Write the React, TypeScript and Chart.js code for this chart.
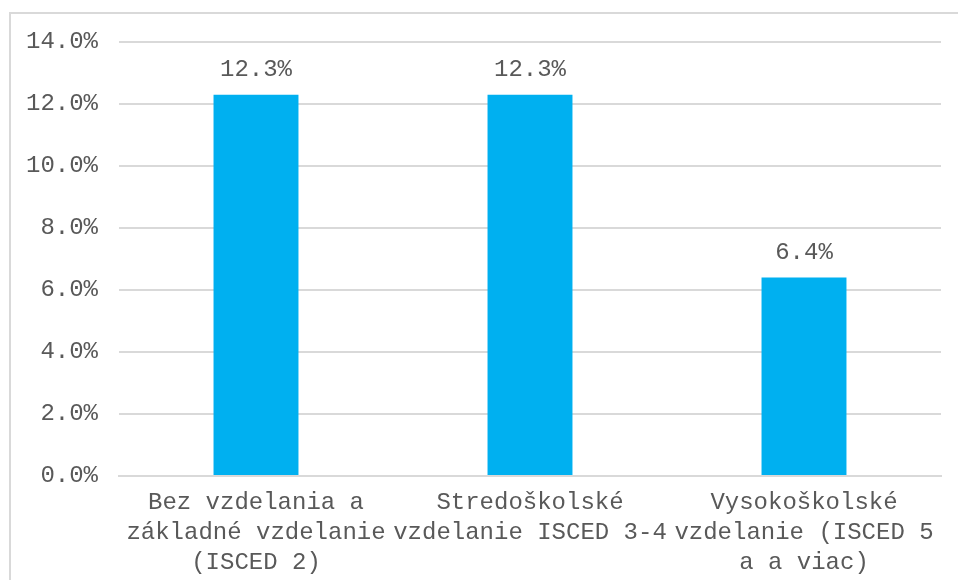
import React, { useEffect, useRef } from "react";
import { Chart, registerables } from "chart.js";

Chart.register(...registerables);

const categories: string[][] = [
  ["Bez vzdelania a", "základné vzdelanie", "(ISCED 2)"],
  ["Stredoškolské", "vzdelanie ISCED 3-4"],
  ["Vysokoškolské", "vzdelanie (ISCED 5", "a a viac)"],
];
const values: number[] = [12.3, 12.3, 6.4];
const valueLabels: string[] = ["12.3%", "12.3%", "6.4%"];

const FONT = "'Liberation Mono', 'Courier New', monospace";
const TEXT = "#595959";

const labelPlugin = {
  id: "valueLabels",
  afterDatasetsDraw(chart: any) {
    const ctx = chart.ctx;
    const meta = chart.getDatasetMeta(0);
    ctx.save();
    ctx.font = `24px ${FONT}`;
    ctx.fillStyle = TEXT;
    ctx.textAlign = "center";
    ctx.textBaseline = "alphabetic";
    meta.data.forEach((bar: any, i: number) => {
      ctx.fillText(valueLabels[i], bar.x, bar.y - 19);
    });
    ctx.restore();
  },
};

export default function App() {
  const ref = useRef<HTMLCanvasElement | null>(null);
  useEffect(() => {
    if (!ref.current) return;
    const chart = new Chart(ref.current, {
      type: "bar",
      data: {
        labels: categories,
        datasets: [
          {
            data: values,
            backgroundColor: "#00B0F0",
            borderWidth: 0,
            categoryPercentage: 1,
            barPercentage: 0.31,
          },
        ],
      },
      options: {
        animation: false,
        responsive: false,
        layout: { padding: { top: 42, right: 17, left: 0, bottom: 0 } },
        plugins: { legend: { display: false }, tooltip: { enabled: false } },
        scales: {
          x: {
            grid: { display: false, drawTicks: false },
            border: { display: true, color: "#d9d9d9", width: 2 },
            ticks: {
              autoSkip: false,
              maxRotation: 0,
              minRotation: 0,
              padding: 12,
              color: TEXT,
              font: { family: FONT, size: 24, lineHeight: 1.25 },
            },
            afterFit: (s: any) => {
              s.height = 580 - 476;
            },
          },
          y: {
            min: 0,
            max: 14,
            grid: { color: "#d9d9d9", lineWidth: 2, drawTicks: false },
            border: { display: false },
            ticks: {
              stepSize: 2,
              padding: 21,
              color: TEXT,
              font: { family: FONT, size: 24 },
              callback: (v: any) => Number(v).toFixed(1) + "%",
            },
            afterFit: (s: any) => {
              s.width = 119;
            },
          },
        },
      },
      plugins: [labelPlugin],
    });
    return () => chart.destroy();
  }, []);
  return (
    <div
      style={{
        position: "fixed",
        left: 0,
        top: 0,
        width: 958,
        height: 580,
        overflow: "hidden",
        background: "#fff",
      }}
    >
      <div
        style={{
          position: "absolute",
          left: 9,
          top: 12,
          width: 1000,
          height: 700,
          border: "2px solid #d9d9d9",
          boxSizing: "border-box",
        }}
      />
      <canvas
        ref={ref}
        width={958}
        height={580}
        style={{ position: "absolute", left: 0, top: 0, width: 958, height: 580 }}
      />
    </div>
  );
}
